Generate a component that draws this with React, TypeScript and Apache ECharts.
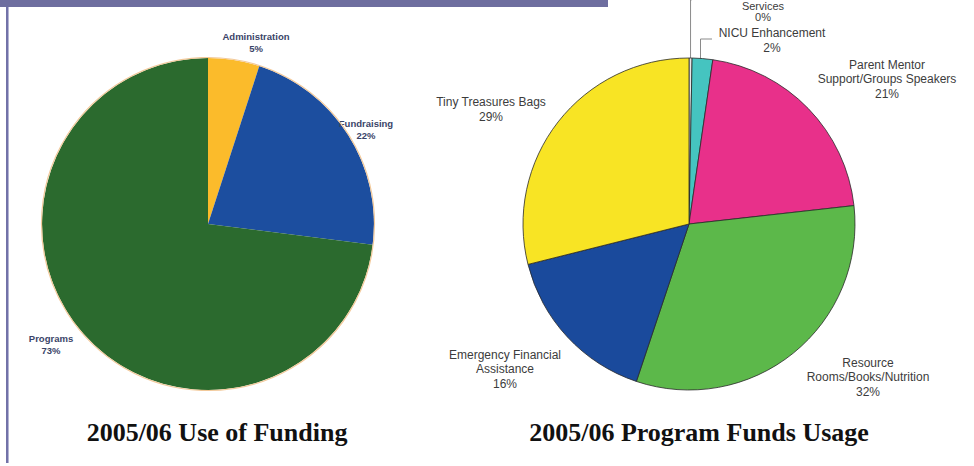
import React, { useEffect, useRef } from "react";
import * as echarts from "echarts";

// ---- data ----
const fundingCategories = ["Administration", "Fundraising", "Programs"];
const fundingValues = [5, 22, 73];

const programCategories = [
  "Services",
  "NICU Enhancement",
  "Parent Mentor\nSupport/Groups Speakers",
  "Resource\nRooms/Books/Nutrition",
  "Emergency Financial\nAssistance",
  "Tiny Treasures Bags",
];
const programValues = [0.3, 2, 21, 32, 16, 29];

const titles = ["2005/06 Use of Funding", "2005/06 Program Funds Usage"];

// ---- layout / style ----
const fundingColors = ["#fbbb2b", "#1c4e9f", "#2b6a2e"];
const programColors = ["#e8e8e8", "#45c4c0", "#e8308a", "#5cb84a", "#1a4a9c", "#f8e424"];
const leftCenter = [208, 224];
const rightCenter = [689, 224];
const pieRadius = 166;
const fundingLabelPos = [
  [256, 42],
  [366, 129],
  [51, 344],
];
const programLabelPos = [
  [763, 11],
  [772, 40.5],
  [887, 79],
  [868, 377],
  [505, 369],
  [491, 109.5],
];

function arcPoint(values: number[], idx: number, center: number[], r: number) {
  const total = values.reduce((a, b) => a + b, 0);
  let cum = 0;
  for (let i = 0; i < idx; i++) cum += values[i];
  const mid = (cum + values[idx] / 2) / total;
  const ang = mid * Math.PI * 2;
  return [center[0] + r * Math.sin(ang), center[1] - r * Math.cos(ang)];
}

export default function App() {
  const ref = useRef<HTMLDivElement>(null);
  useEffect(() => {
    document.body.style.margin = "0";
    if (!ref.current) return;
    const chart = echarts.init(ref.current, undefined, { renderer: "svg" });
    const fmt = (p: any) => `${p.name}\n${Math.round(p.value)}%`;
    const option: any = {
      animation: false,
      backgroundColor: "#ffffff",
      title: titles.map((t, i) => ({
        text: t,
        left: i === 0 ? 212 : 694,
        top: 414,
        textAlign: "center",
        textStyle: {
          fontFamily: "Liberation Serif",
          fontWeight: "bold",
          fontSize: 26,
          lineHeight: 26,
          color: "#111111",
        },
      })),
      graphic: [
        { type: "rect", shape: { x: 0, y: 0, width: 608, height: 7 }, style: { fill: "#6e6e9f" } },
        { type: "rect", shape: { x: 6, y: 7, width: 2, height: 456 }, style: { fill: "#7272a8" } },
        { type: "rect", shape: { x: 8, y: 7, width: 1, height: 456 }, style: { fill: "#b4b4d4" } },
        {
          type: "circle",
          shape: { cx: leftCenter[0], cy: leftCenter[1], r: pieRadius + 0.5 },
          style: { fill: "none", stroke: "#f2c99a", lineWidth: 1.2 },
          z: 10,
        },
      ],
      series: [
        {
          type: "pie",
          center: leftCenter,
          radius: pieRadius,
          startAngle: 90,
          clockwise: true,
          avoidLabelOverlap: false,
          data: fundingCategories.map((c, i) => ({
            name: c,
            value: fundingValues[i],
            itemStyle: { color: fundingColors[i] },
          })),
          itemStyle: { borderWidth: 0 },
          label: {
            show: true,
            formatter: fmt,
            fontFamily: "Liberation Sans",
            fontWeight: "bold",
            fontSize: 9.5,
            lineHeight: 12,
            color: "#3a4468",
            align: "center",
          },
          labelLine: { show: false },
          labelLayout: (p: any) => ({
            x: fundingLabelPos[p.dataIndex][0],
            y: fundingLabelPos[p.dataIndex][1],
            align: "center",
            verticalAlign: "middle",
          }),
          emphasis: { disabled: true },
        },
        {
          type: "pie",
          center: rightCenter,
          radius: pieRadius,
          startAngle: 90,
          clockwise: true,
          avoidLabelOverlap: false,
          data: programCategories.map((c, i) => ({
            name: c,
            value: programValues[i],
            itemStyle: { color: programColors[i] },
            labelLine: { show: i < 2 },
            label: i === 0 ? { fontSize: 11, lineHeight: 11 } : undefined,
          })),
          itemStyle: { borderColor: "#2a2a2a", borderWidth: 0.8 },
          label: {
            show: true,
            formatter: fmt,
            fontFamily: "Liberation Sans",
            fontSize: 12,
            lineHeight: 14.5,
            color: "#3c3c3c",
            align: "center",
          },
          labelLine: { show: true, lineStyle: { color: "#8a8a8a", width: 1 } },
          labelLayout: (p: any) => {
            const i = p.dataIndex;
            const res: any = {
              x: programLabelPos[i][0],
              y: programLabelPos[i][1],
              align: "center",
              verticalAlign: "middle",
            };
            const a = arcPoint(programValues, i, rightCenter, pieRadius);
            if (i === 0) {
              res.labelLinePoints = [
                [a[0], a[1]],
                [a[0], 0],
                [a[0] + 1, 0],
              ];
            } else if (i === 1) {
              res.labelLinePoints = [
                [a[0] - 2, a[1]],
                [a[0] - 2, 39],
                [712, 39],
              ];
            }
            return res;
          },
          emphasis: { disabled: true },
        },
      ],
    };
    chart.setOption(option);
    return () => chart.dispose();
  }, []);
  return <div ref={ref} style={{ width: 974, height: 466 }} />;
}
